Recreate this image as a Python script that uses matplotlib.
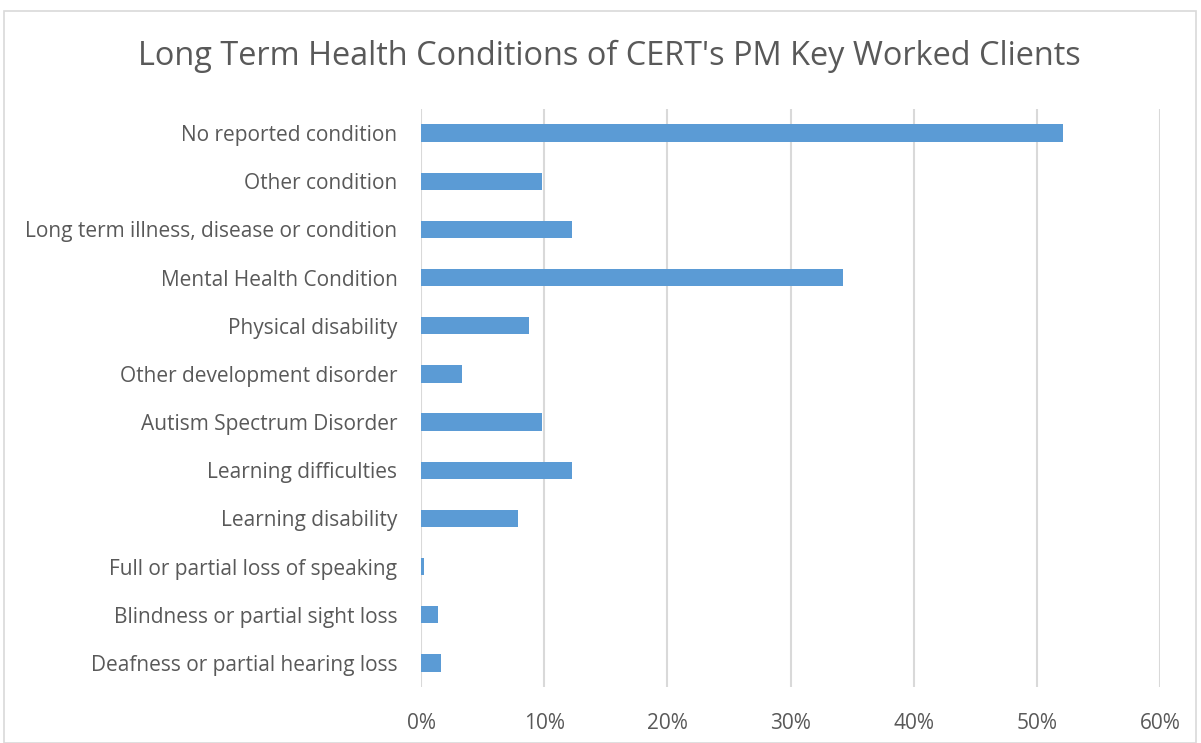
import matplotlib.pyplot as plt
from matplotlib.patches import Rectangle
from matplotlib.ticker import PercentFormatter

plt.rcParams['font.family'] = ['Open Sans', 'DejaVu Sans']

categories = [
    "No reported condition",
    "Other condition",
    "Long term illness, disease or condition",
    "Mental Health Condition",
    "Physical disability",
    "Other development disorder",
    "Autism Spectrum Disorder",
    "Learning difficulties",
    "Learning disability",
    "Full or partial loss of speaking",
    "Blindness or partial sight loss",
    "Deafness or partial hearing loss",
]
values = [52.1, 9.84, 12.3, 34.3, 8.75, 3.3, 9.84, 12.3, 7.9, 0.25, 1.4, 1.6]

fig = plt.figure(figsize=(12.01, 7.43), dpi=100)
fig.patches.append(Rectangle((4 / 1201, 0.0), 1192 / 1201, 1 - 11 / 743,
                             transform=fig.transFigure, fill=False,
                             edgecolor="#d9d9d9", linewidth=1.2))

ax = fig.add_axes([421 / 1201, 1 - 687 / 743, 739 / 1201, 578 / 743])
y = range(len(categories))
ax.barh(y, values, height=0.36, color="#5b9bd5", zorder=3)
ax.set_yticks(list(y))
ax.set_yticklabels(categories)
ax.set_ylim(len(categories) - 0.5, -0.5)
ax.set_xlim(0, 60)
ax.set_xticks(range(0, 61, 10))
ax.xaxis.set_major_formatter(PercentFormatter(decimals=0))
ax.grid(axis="x", color="#d9d9d9", linewidth=1.5, zorder=0)
for s in ax.spines.values():
    s.set_visible(False)
ax.tick_params(length=0, labelsize=15, labelcolor="#595959")
ax.tick_params(axis="y", pad=17)
ax.tick_params(axis="x", pad=19)

fig.text(609 / 1201, 1 - 56 / 743, "Long Term Health Conditions of CERT's PM Key Worked Clients",
         ha="center", va="center", fontsize=23.4, color="#595959")

fig.savefig("out.png", dpi=100)
